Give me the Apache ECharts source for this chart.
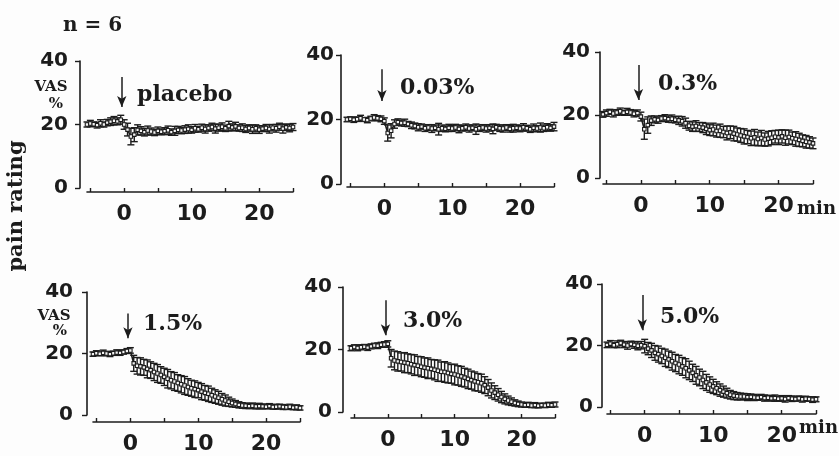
<!DOCTYPE html>
<html>
<head>
<meta charset="utf-8">
<script src="https://cdn.jsdelivr.net/npm/echarts@6/dist/echarts.min.js"></script>
<style>
  html, body { margin: 0; padding: 0; background: #fdfdfd; }
  #chart { width: 839px; height: 456px; }
</style>
</head>
<body>
<div id="chart"></div>
<script>
// Time after application (min), sampled every 30 s
const times = [
  -5.5, -5, -4.5, -4, -3.5, -3, -2.5, -2, -1.5, -1,
  -0.5, 0, 0.5, 1, 1.5, 2, 2.5, 3, 3.5, 4,
  4.5, 5, 5.5, 6, 6.5, 7, 7.5, 8, 8.5, 9,
  9.5, 10, 10.5, 11, 11.5, 12, 12.5, 13, 13.5, 14,
  14.5, 15, 15.5, 16, 16.5, 17, 17.5, 18, 18.5, 19,
  19.5, 20, 20.5, 21, 21.5, 22, 22.5, 23, 23.5, 24,
  24.5, 25
];

// Pain rating (VAS %), mean and SEM per dose
const placeboMean = [
  20.0, 20.3, 20.1, 19.8, 20.4, 20.0, 20.6, 20.9, 21.2, 21.0,
  21.5, 20.0, 18.4, 16.2, 16.8, 18.3, 18.0, 17.6, 18.1, 17.8,
  17.5, 18.0, 17.7, 17.9, 18.2, 17.6, 18.0, 18.3, 18.1, 18.4,
  18.6, 18.3, 18.8, 18.5, 19.0, 18.6, 18.9, 19.2, 18.7, 19.0,
  19.3, 18.8, 19.5, 19.1, 19.4, 18.9, 19.0, 18.6, 18.9, 18.5,
  18.8, 18.4, 18.7, 18.9, 18.6, 19.0, 18.8, 19.3, 18.7, 19.1,
  18.9, 19.2
];
const placeboSem = [
  0.8, 1.0, 0.7, 0.9, 1.1, 0.8, 1.0, 1.2, 1.3, 1.1,
  1.4, 1.5, 2.0, 2.6, 2.2, 1.6, 1.3, 1.2, 1.4, 1.1,
  1.0, 1.2, 0.9, 1.1, 1.3, 1.0, 1.4, 1.1, 1.0, 1.2,
  1.3, 1.0, 1.2, 0.9, 1.1, 1.3, 1.0, 1.2, 1.4, 1.1,
  1.2, 1.0, 1.5, 1.1, 1.3, 1.0, 1.2, 1.1, 1.0, 1.3,
  1.1, 1.2, 0.9, 1.1, 1.3, 1.0, 1.2, 1.1, 1.4, 1.0,
  1.2, 1.1
];

const dose003Mean = [
  20.0, 20.2, 19.9, 20.1, 20.4, 20.0, 19.8, 20.3, 20.6, 20.4,
  20.2, 19.5, 15.8, 16.5, 18.6, 19.2, 18.9, 19.0, 18.6, 18.2,
  18.0, 17.6, 17.8, 17.3, 17.5, 17.2, 17.4, 17.0, 17.3, 17.1,
  17.4, 17.2, 17.5, 17.1, 17.3, 17.6, 17.2, 17.4, 17.0, 17.3,
  17.5, 17.2, 17.4, 17.1, 17.6, 17.3, 17.2, 17.5, 17.1, 17.3,
  17.4, 17.2, 17.6, 17.3, 17.0, 17.4, 17.2, 17.5, 17.3, 17.6,
  17.4, 17.8
];
const dose003Sem = [
  0.7, 0.6, 0.8, 0.7, 0.9, 0.6, 0.8, 0.7, 0.9, 0.8,
  0.9, 1.0, 2.5, 2.2, 1.3, 1.0, 0.9, 1.1, 0.8, 1.0,
  0.9, 1.1, 0.8, 1.0, 0.9, 1.2, 0.9, 1.8, 1.0, 0.9,
  1.1, 0.9, 1.0, 1.2, 0.9, 1.0, 1.1, 0.9, 1.6, 1.0,
  0.9, 1.1, 1.0, 1.5, 0.9, 1.0, 1.1, 0.9, 1.0, 1.2,
  0.9, 1.0, 1.1, 0.9, 1.0, 1.2, 0.9, 1.4, 1.0, 1.1,
  1.0, 1.3
];

const dose03Mean = [
  20.2, 20.6, 21.0, 20.5, 20.8, 21.2, 20.7, 21.0, 20.8, 20.4,
  20.6, 19.5, 15.5, 16.8, 18.2, 18.6, 18.4, 18.9, 19.0, 18.7,
  18.8, 18.5, 18.3, 18.0, 17.4, 16.6, 16.3, 16.5, 16.2, 16.0,
  15.6, 15.2, 15.4, 14.9, 15.0, 14.6, 14.3, 14.5, 14.1, 13.8,
  13.5, 13.2, 13.0, 12.6, 12.9, 12.4, 12.7, 12.2, 12.5, 12.8,
  13.1, 12.9, 13.2, 12.8, 13.0, 12.6, 12.4, 12.1, 11.8, 11.5,
  11.3, 11.0
];
const dose03Sem = [
  0.9, 1.0, 0.8, 1.1, 0.9, 1.0, 0.8, 1.1, 0.9, 1.0,
  1.0, 1.4, 3.2, 2.6, 1.5, 1.1, 1.0, 0.9, 1.1, 1.0,
  1.2, 1.0, 1.3, 1.5, 1.6, 1.4, 1.5, 1.7, 1.4, 1.6,
  1.8, 1.7, 2.0, 1.9, 2.1, 1.8, 2.2, 2.0, 2.3, 2.1,
  2.2, 2.4, 2.1, 2.3, 2.5, 2.2, 2.4, 2.1, 2.3, 2.2,
  2.0, 2.3, 2.1, 2.4, 2.2, 2.0, 2.3, 2.1, 1.9, 2.0,
  1.8, 1.7
];

const dose15Mean = [
  19.8, 20.1, 19.9, 20.2, 20.0, 19.8, 20.1, 20.3, 20.2, 20.5,
  20.8, 21.0, 16.8, 16.0, 15.8, 15.5, 15.0, 14.6, 14.0, 13.5,
  13.0, 12.4, 11.8, 11.3, 10.9, 10.4, 10.0, 9.6, 9.1, 8.7,
  8.4, 8.1, 7.6, 7.2, 6.9, 6.4, 6.0, 5.6, 5.1, 4.7,
  4.3, 3.9, 3.6, 3.3, 3.1, 3.0, 2.9, 3.0, 2.8, 2.9,
  2.8, 2.7, 2.9, 2.6, 2.7, 2.8, 2.6, 2.5, 2.7, 2.4,
  2.5, 2.3
];
const dose15Sem = [
  0.7, 0.8, 0.6, 0.9, 0.7, 0.8, 0.7, 0.9, 0.8, 0.7,
  0.8, 0.9, 2.6, 2.7, 2.8, 2.6, 2.9, 2.7, 2.8, 2.9,
  2.7, 2.8, 3.0, 2.8, 2.9, 2.7, 2.8, 2.9, 2.7, 2.6,
  2.7, 2.5, 2.6, 2.4, 2.5, 2.3, 2.2, 2.1, 1.9, 1.8,
  1.5, 1.3, 1.1, 1.0, 0.9, 0.9, 0.8, 0.9, 0.8, 0.9,
  0.8, 0.7, 0.8, 0.7, 0.8, 0.7, 0.8, 0.7, 0.8, 0.7,
  0.8, 0.7
];

const dose30Mean = [
  20.4, 20.8, 20.5, 20.7, 20.9, 20.6, 21.0, 21.3, 21.2, 21.5,
  21.6, 21.8, 17.2, 16.5, 16.2, 16.0, 15.8, 15.6, 15.3, 15.0,
  14.8, 14.5, 14.2, 14.0, 13.8, 13.5, 13.2, 12.9, 12.8, 12.5,
  12.2, 12.0, 11.7, 11.4, 11.0, 10.6, 10.2, 9.8, 9.5, 9.2,
  8.6, 7.8, 6.9, 6.2, 5.5, 4.8, 4.2, 3.7, 3.3, 2.9,
  2.6, 2.4, 2.2, 2.3, 2.1, 2.2, 2.0, 2.2, 2.1, 2.3,
  2.2, 2.4
];
const dose30Sem = [
  0.8, 0.7, 0.9, 0.8, 0.7, 0.9, 0.8, 0.7, 0.9, 0.8,
  0.9, 1.0, 2.8, 3.0, 3.1, 2.9, 3.2, 3.0, 3.1, 3.3,
  3.0, 3.2, 3.1, 3.3, 3.0, 3.2, 3.4, 3.1, 3.3, 3.2,
  3.0, 3.3, 3.1, 3.2, 3.0, 3.1, 2.9, 3.0, 2.8, 2.9,
  2.7, 2.6, 2.4, 2.2, 2.0, 1.8, 1.6, 1.4, 1.2, 1.0,
  0.9, 0.8, 0.7, 0.8, 0.7, 0.8, 0.7, 0.6, 0.7, 0.8,
  0.7, 0.8
];

const dose50Mean = [
  20.2, 20.6, 20.1, 20.4, 20.8, 20.3, 20.0, 20.5, 20.2, 19.9,
  20.1, 19.8, 19.0, 18.4, 17.6, 17.2, 16.6, 16.0, 15.5, 14.9,
  14.3, 13.8, 13.2, 12.6, 11.9, 11.1, 10.3, 9.6, 8.8, 8.0,
  7.3, 6.7, 6.1, 5.5, 5.0, 4.5, 4.0, 3.7, 3.5, 3.4,
  3.4, 3.2, 3.3, 3.1, 3.0, 3.2, 2.9, 3.0, 2.8, 2.9,
  2.7, 2.8, 2.6, 2.9, 2.7, 2.6, 2.8, 2.5, 2.7, 2.6,
  2.4, 2.5
];
const dose50Sem = [
  0.9, 1.0, 0.8, 1.1, 0.9, 1.0, 1.2, 0.9, 1.1, 1.3,
  1.2, 2.2, 2.0, 2.3, 2.4, 2.6, 2.5, 2.8, 2.7, 2.9,
  2.8, 3.0, 2.9, 3.1, 3.0, 2.8, 2.9, 2.7, 2.8, 2.6,
  2.5, 2.3, 2.1, 2.0, 1.8, 1.6, 1.4, 1.3, 1.2, 1.1,
  1.0, 1.1, 0.9, 1.0, 0.8, 0.9, 1.0, 0.8, 0.9, 1.0,
  0.8, 0.9, 1.0, 0.8, 0.9, 0.7, 0.8, 0.9, 0.8, 0.7,
  0.9, 0.8
];

const doseLabels = ['placebo', '0.03%', '0.3%', '1.5%', '3.0%', '5.0%'];
const yTicks = [0, 20, 40];
const xTickValues = [-5, 0, 5, 10, 15, 20, 25];
const xLabelValues = [0, 10, 20];

const seriesMeans = [placeboMean, dose003Mean, dose03Mean, dose15Mean, dose30Mean, dose50Mean];
const seriesSems = [placeboSem, dose003Sem, dose03Sem, dose15Sem, dose30Sem, dose50Sem];

// Panel geometry (pixels): plot box, axis offsets, y-label margin, arrow span and label placement
const layout = [
  { left: 87,  top: 61,  width: 206, height: 127, yOff: 7, xOff: 4, ylm: 12, arrow: [35.0, 25.5], lab: [137, 95] },
  { left: 347, top: 55,  width: 207, height: 129, yOff: 6, xOff: 3, ylm: 7,  arrow: [35.6, 25.7], lab: [400, 88] },
  { left: 603, top: 52,  width: 210, height: 126, yOff: 3, xOff: 6, ylm: 10, arrow: [35.9, 24.8], lab: [658, 84] },
  { left: 93,  top: 292, width: 207, height: 123, yOff: 6, xOff: 7, ylm: 14, arrow: [33.0, 25.0], lab: [143, 324] },
  { left: 351, top: 287, width: 204, height: 125, yOff: 8, xOff: 6, ylm: 11, arrow: [35.8, 24.6], lab: [403, 321] },
  { left: 607, top: 284, width: 209, height: 123, yOff: 5, xOff: 7, ylm: 9,  arrow: [36.4, 25.0], lab: [660, 317] }
];

const INK = '#1c1c1c';
const SANS = 'DejaVu Sans';

const grids = [], xAxes = [], yAxes = [], series = [];

layout.forEach((g, i) => {
  grids.push({ left: g.left, top: g.top, width: g.width, height: g.height, containLabel: false });

  xAxes.push({
    type: 'value', gridIndex: i, min: -5.5, max: 25, position: 'bottom', offset: g.xOff,
    axisLine: { show: true, onZero: false, lineStyle: { color: INK, width: 1.6 } },
    axisTick: { show: true, inside: true, length: 4, lineStyle: { color: INK, width: 1.4 }, customValues: xTickValues },
    axisLabel: { show: true, customValues: xLabelValues, margin: 11, color: INK,
      fontFamily: SANS, fontWeight: 'bold', fontSize: 22 },
    splitLine: { show: false }
  });

  yAxes.push({
    type: 'value', gridIndex: i, min: 0, max: 40, interval: 20, position: 'left', offset: g.yOff,
    axisLine: { show: true, onZero: false, lineStyle: { color: INK, width: 1.6 } },
    axisTick: { show: true, inside: false, length: 5, lineStyle: { color: INK, width: 1.4 }, customValues: yTicks },
    axisLabel: { show: true, margin: g.ylm, color: INK, fontFamily: SANS, fontWeight: 'bold', fontSize: 20 },
    splitLine: { show: false }
  });

  const mean = seriesMeans[i];
  const sem = seriesSems[i];
  const errData = times.map((t, k) => [t, mean[k] - sem[k], mean[k] + sem[k]]);
  const lineData = times.map((t, k) => [t, mean[k]]);

  // SEM bars with caps
  series.push({
    type: 'custom', xAxisIndex: i, yAxisIndex: i, silent: true,
    data: errData,
    encode: { x: 0, y: [1, 2] },
    renderItem: function (params, api) {
      const x = api.value(0);
      const top = api.coord([x, api.value(2)]);
      const bot = api.coord([x, api.value(1)]);
      const w = 3.5;
      const st = { stroke: INK, lineWidth: 1.4 };
      return {
        type: 'group',
        children: [
          { type: 'line', shape: { x1: top[0], y1: top[1], x2: bot[0], y2: bot[1] }, style: st },
          { type: 'line', shape: { x1: top[0] - w, y1: top[1], x2: top[0] + w, y2: top[1] }, style: st },
          { type: 'line', shape: { x1: bot[0] - w, y1: bot[1], x2: bot[0] + w, y2: bot[1] }, style: st }
        ]
      };
    }
  });

  // Mean curve with open square markers and the application arrow
  series.push({
    type: 'line', xAxisIndex: i, yAxisIndex: i, silent: true,
    data: lineData,
    symbol: 'rect', symbolSize: 3.5, showSymbol: true,
    lineStyle: { color: INK, width: 1.6 },
    itemStyle: { color: '#f4f4f4', borderColor: INK, borderWidth: 1.1 },
    markLine: {
      silent: true, animation: false,
      symbol: ['none', 'arrow'], symbolSize: [7, 11],
      lineStyle: { color: INK, width: 1.5, type: 'solid' },
      label: { show: false },
      data: [[{ coord: [-0.35, g.arrow[0]] }, { coord: [-0.35, g.arrow[1]] }]]
    }
  });
});

const graphics = [
  { type: 'text', left: 63, top: 16, style: { text: 'n = 6', fill: INK, font: 'bold 20px "DejaVu Serif"' } },
  { type: 'text', x: 17, y: 206, rotation: Math.PI / 2,
    style: { text: 'pain rating', fill: INK, font: 'bold 21px "DejaVu Serif"', align: 'center', verticalAlign: 'middle' } },
  { type: 'text', x: 51, y: 87, style: { text: 'VAS', fill: INK, font: 'bold 15px "DejaVu Serif"', align: 'center', verticalAlign: 'middle' } },
  { type: 'text', x: 56, y: 104, style: { text: '%', fill: INK, font: 'bold 15px "DejaVu Serif"', align: 'center', verticalAlign: 'middle' } },
  { type: 'text', x: 54, y: 316, style: { text: 'VAS', fill: INK, font: 'bold 15px "DejaVu Serif"', align: 'center', verticalAlign: 'middle' } },
  { type: 'text', x: 60, y: 331, style: { text: '%', fill: INK, font: 'bold 15px "DejaVu Serif"', align: 'center', verticalAlign: 'middle' } },
  { type: 'text', x: 797, y: 209, style: { text: 'min', fill: INK, font: 'bold 18px "DejaVu Serif"', align: 'left', verticalAlign: 'middle' } },
  { type: 'text', x: 799, y: 428, style: { text: 'min', fill: INK, font: 'bold 18px "DejaVu Serif"', align: 'left', verticalAlign: 'middle' } }
];
layout.forEach((g, i) => {
  graphics.push({ type: 'text', x: g.lab[0], y: g.lab[1],
    style: { text: doseLabels[i], fill: INK, font: 'bold 22px "DejaVu Serif"', align: 'left', verticalAlign: 'middle' } });
});

const chart = echarts.init(document.getElementById('chart'), null, { renderer: 'canvas' });
chart.setOption({
  backgroundColor: '#fdfdfd',
  animation: false,
  grid: grids,
  xAxis: xAxes,
  yAxis: yAxes,
  series: series,
  graphic: graphics
});
</script>
</body>
</html>
